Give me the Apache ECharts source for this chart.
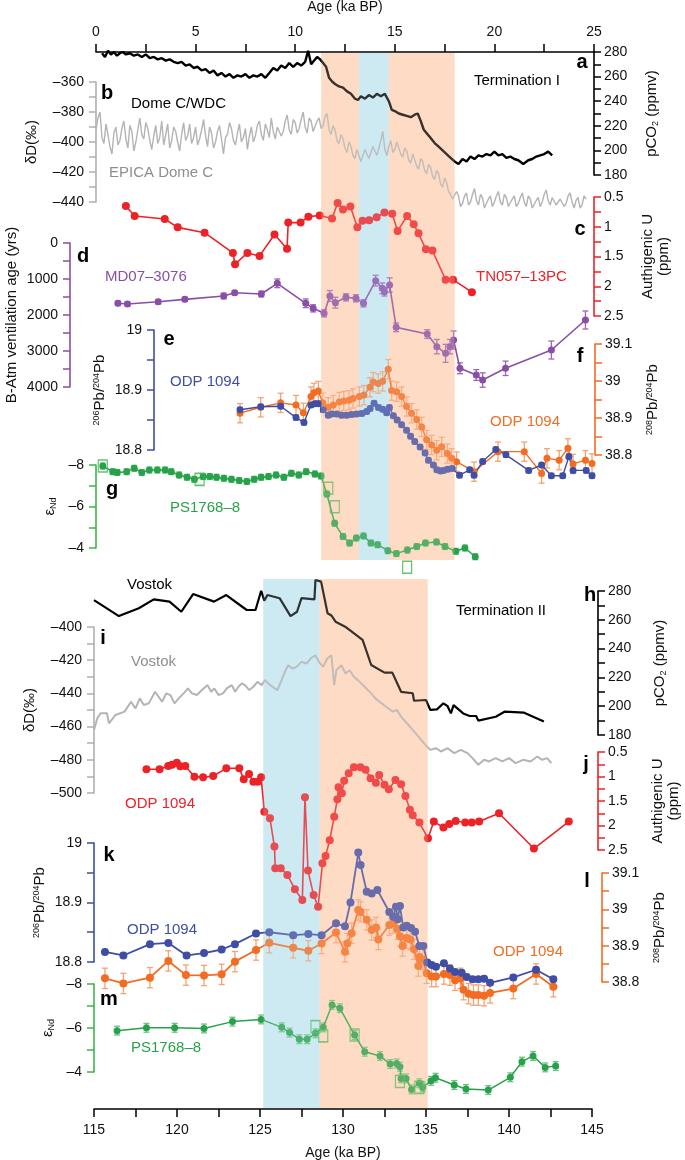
<!DOCTYPE html>
<html><head><meta charset="utf-8">
<script src="https://cdn.jsdelivr.net/npm/echarts@6/dist/echarts.min.js"></script>
<style>html,body{margin:0;padding:0;background:#fff}#c{width:685px;height:1160px}</style>
</head><body><div id="c"></div>
<script>
// ---------------- DATA ----------------
const xTop = [0, 25];
const xBot = [115, 145];
// shading [from, to, kind 0=orange 1=blue]
const shadeTop = [[11.3,13.2,0],[13.2,14.7,1],[14.7,18.0,0]];
const shadeBot = [[125.2,128.6,1],[128.6,135.1,0]];

// a: pCO2 Dome C/WDC
const co2A = [[0.3,279],[0.45,276],[0.6,281],[0.75,278],[0.9,280],[1.05,277],[1.2,279],[1.35,280],[1.5,278],[1.7,279],[1.9,277],[2.1,278],[2.3,276],[2.5,278],[2.7,275],[2.9,276],[3.1,274],[3.3,275],[3.5,273],[3.7,274],[3.9,272],[4.1,271],[4.3,272],[4.5,269],[4.7,270],[4.9,267],[5.1,268],[5.3,265],[5.5,266],[5.7,263],[5.9,265],[6.1,261],[6.3,263],[6.5,260],[6.7,262],[6.9,259],[7.1,261],[7.3,260],[7.5,262],[7.7,259],[7.9,261],[8.1,260],[8.3,262],[8.5,259],[8.7,263],[8.9,267],[9.1,265],[9.3,269],[9.5,267],[9.7,271],[9.9,268],[10.1,271],[10.3,269],[10.5,272],[10.65,281],[10.8,270],[10.95,273],[11.1,276],[11.25,274],[11.4,271],[11.55,268],[11.7,259],[11.85,256],[12.0,254],[12.2,252],[12.4,251],[12.6,248],[12.8,246],[13.0,242],[13.15,241],[13.3,244],[13.5,242],[13.7,245],[13.9,243],[14.1,246],[14.3,244],[14.5,246],[14.7,240],[14.85,233],[15.0,232],[15.2,230],[15.4,229],[15.6,228],[15.8,227],[16.0,229],[16.15,230],[16.3,224],[16.45,217],[16.6,214],[16.8,210],[17.0,206],[17.2,203],[17.4,200],[17.6,197],[17.8,194],[18.0,191],[18.2,189],[18.4,193],[18.6,191],[18.8,195],[19.0,193],[19.2,196],[19.4,195],[19.6,197],[19.8,196],[20.0,199],[20.2,196],[20.4,197],[20.6,194],[20.8,195],[21.0,193],[21.2,192],[21.45,189],[21.7,192],[21.9,193],[22.1,195],[22.3,196],[22.5,197],[22.7,199],[22.9,196]];
// b: dD EPICA Dome C
const dDA = [[0.0,-392],[0.1,-384],[0.2,-380],[0.3,-397],[0.4,-401],[0.5,-388],[0.6,-395],[0.7,-403],[0.8,-408],[0.9,-394],[1.0,-390],[1.1,-402],[1.2,-399],[1.3,-391],[1.4,-386],[1.5,-398],[1.6,-404],[1.7,-389],[1.8,-393],[1.9,-406],[2.0,-400],[2.1,-392],[2.2,-384],[2.3,-395],[2.4,-398],[2.5,-387],[2.6,-391],[2.7,-399],[2.8,-405],[2.9,-396],[3.0,-389],[3.1,-401],[3.2,-397],[3.3,-386],[3.4,-402],[3.5,-395],[3.6,-388],[3.7,-404],[3.8,-399],[3.9,-390],[4.0,-393],[4.1,-400],[4.2,-406],[4.3,-395],[4.4,-387],[4.5,-399],[4.6,-396],[4.7,-388],[4.8,-401],[4.9,-397],[5.0,-390],[5.1,-402],[5.2,-398],[5.3,-392],[5.4,-385],[5.5,-396],[5.6,-403],[5.7,-390],[5.8,-394],[5.9,-404],[6.0,-400],[6.1,-393],[6.2,-389],[6.3,-398],[6.4,-408],[6.5,-397],[6.6,-395],[6.7,-387],[6.8,-391],[6.9,-399],[7.0,-402],[7.1,-394],[7.2,-388],[7.3,-400],[7.4,-397],[7.5,-391],[7.6,-405],[7.7,-396],[7.8,-390],[7.9,-400],[8.0,-396],[8.1,-389],[8.2,-386],[8.3,-395],[8.4,-399],[8.5,-388],[8.6,-392],[8.7,-397],[8.8,-384],[8.9,-393],[9.0,-398],[9.1,-390],[9.2,-389],[9.3,-396],[9.4,-393],[9.5,-386],[9.6,-382],[9.7,-392],[9.8,-395],[9.9,-385],[10.0,-387],[10.1,-394],[10.2,-391],[10.3,-385],[10.4,-380],[10.5,-390],[10.6,-394],[10.7,-384],[10.8,-386],[10.9,-393],[11.0,-392],[11.1,-386],[11.2,-384],[11.3,-391],[11.4,-389],[11.5,-383],[11.6,-381],[11.7,-392],[11.8,-395],[11.9,-389],[12.0,-392],[12.1,-399],[12.2,-401],[12.3,-395],[12.4,-398],[12.5,-404],[12.6,-407],[12.7,-400],[12.8,-403],[12.9,-409],[13.0,-411],[13.1,-405],[13.2,-406],[13.3,-413],[13.4,-412],[13.5,-405],[13.6,-404],[13.7,-411],[13.8,-410],[13.9,-403],[14.0,-402],[14.1,-409],[14.2,-408],[14.3,-399],[14.4,-393],[14.5,-405],[14.6,-409],[14.7,-403],[14.8,-399],[14.9,-407],[15.0,-405],[15.1,-400],[15.2,-401],[15.3,-408],[15.4,-410],[15.5,-404],[15.6,-406],[15.7,-412],[15.8,-414],[15.9,-408],[16.0,-409],[16.1,-416],[16.2,-418],[16.3,-411],[16.4,-413],[16.5,-419],[16.6,-421],[16.7,-415],[16.8,-417],[16.9,-423],[17.0,-425],[17.1,-419],[17.2,-421],[17.3,-428],[17.4,-430],[17.5,-424],[17.6,-427],[17.7,-433],[17.8,-435],[17.9,-438],[18.0,-439],[18.1,-433],[18.2,-436],[18.3,-443],[18.4,-441],[18.5,-436],[18.6,-434],[18.7,-442],[18.8,-440],[18.9,-435],[19.0,-431],[19.1,-439],[19.2,-442],[19.3,-435],[19.4,-437],[19.5,-444],[19.6,-443],[19.7,-438],[19.8,-436],[19.9,-443],[20.0,-440],[20.1,-436],[20.2,-433],[20.3,-440],[20.4,-442],[20.5,-435],[20.6,-437],[20.7,-443],[20.8,-444],[20.9,-438],[21.0,-436],[21.1,-443],[21.2,-441],[21.3,-437],[21.4,-434],[21.5,-440],[21.6,-443],[21.7,-436],[21.8,-438],[21.9,-444],[22.0,-445],[22.1,-439],[22.2,-437],[22.3,-443],[22.4,-440],[22.5,-435],[22.6,-432],[22.7,-439],[22.8,-442],[22.9,-437],[23.0,-436],[23.1,-442],[23.2,-443],[23.3,-438],[23.4,-437],[23.5,-443],[23.6,-441],[23.7,-436],[23.8,-434],[23.9,-440],[24.0,-444],[24.1,-439],[24.2,-437],[24.3,-444],[24.4,-442],[24.5,-436],[24.6,-438]];
// c: authigenic U TN057-13PC
const uTop = [[1.5,0.65],[1.94,0.82],[3.45,0.87],[4.1,1.01],[5.45,1.10],[6.87,1.44],[6.98,1.63],[7.6,1.44],[8.21,1.49],[8.96,1.13],[9.59,1.37],[9.65,0.93],[10.27,0.93],[10.66,0.83],[11.23,0.81],[11.85,0.86],[12.13,0.60],[12.4,0.71],[12.77,0.66],[13.12,1.01],[13.38,0.90],[13.71,0.89],[14.09,0.84],[14.48,0.76],[14.87,0.78],[15.14,1.07],[15.62,0.82],[15.95,0.96],[16.19,1.11],[16.56,1.38],[16.89,1.40],[17.55,1.89],[17.92,1.89],[18.87,2.10]];
// d: B-Atm ventilation age MD07-3076 [age, yrs, err]
const ventD = [[1.10,1675,60],[1.58,1694,60],[3.12,1630,60],[4.46,1565,60],[6.41,1472,80],[6.96,1380,60],[8.3,1417,80],[9.1,1120,120],[10.53,1675,120],[10.9,1815,100],[11.45,1953,100],[11.74,1472,150],[12.02,1657,150],[12.55,1509,100],[13.05,1537,100],[13.43,1675,100],[14.04,1046,150],[14.37,1259,150],[14.48,1352,120],[14.74,1167,200],[15.07,2343,120],[16.63,2528,120],[17.11,2880,200],[17.55,3065,250],[17.77,2880,200],[17.95,2694,250],[18.27,3481,150],[19.09,3667,150],[19.41,3806,200],[20.56,3481,200],[22.86,2972,250],[24.57,2139,250]];
// e: 206Pb/204Pb ODP 1094 (T-I)
const pb206A = [[7.23,18.867],[8.27,18.872],[9.27,18.873],[10.04,18.854],[10.44,18.846],[10.79,18.875],[10.99,18.877],[11.16,18.877],[11.41,18.867],[11.66,18.858],[11.83,18.86],[12.08,18.86],[12.33,18.858],[12.58,18.858],[12.83,18.859],[13.08,18.86],[13.34,18.861],[13.59,18.864],[13.76,18.869],[13.96,18.878],[14.18,18.871],[14.39,18.868],[14.59,18.862],[14.73,18.871],[14.93,18.857],[15.12,18.85],[15.34,18.842],[15.59,18.833],[15.79,18.823],[16.0,18.814],[16.27,18.805],[16.52,18.795],[16.69,18.783],[16.94,18.775],[17.11,18.767],[17.3,18.765],[17.44,18.766],[17.65,18.768],[17.88,18.769],[18.25,18.758],[18.76,18.767],[18.98,18.758],[19.41,18.781],[20.07,18.801],[20.58,18.792],[21.72,18.766],[22.37,18.775],[22.86,18.757],[23.43,18.757],[23.74,18.789],[23.95,18.766],[24.61,18.766],[24.9,18.757]];
// f: 208Pb/204Pb ODP 1094 (T-I)
const pb208A = [[7.23,38.913],[8.27,38.929],[9.27,38.941],[10.04,38.935],[10.41,38.914],[10.79,38.958],[10.94,38.968],[11.16,38.973],[11.38,38.941],[11.66,38.929],[11.91,38.935],[12.21,38.943],[12.44,38.946],[12.7,38.948],[12.9,38.953],[13.22,38.958],[13.45,38.962],[13.75,38.983],[13.92,38.997],[14.17,38.993],[14.39,38.999],[14.67,39.032],[14.84,38.974],[15.09,38.971],[15.34,38.958],[15.59,38.931],[15.84,38.913],[16.1,38.896],[16.35,38.876],[16.6,38.841],[16.85,38.827],[17.1,38.813],[17.35,38.822],[17.64,38.804],[17.85,38.791],[18.1,38.782],[18.98,38.755],[20.18,38.809],[21.5,38.809],[22.37,38.75],[22.64,38.791],[23.25,38.786],[23.69,38.818],[23.95,38.776],[24.57,38.786],[24.9,38.777]];
// g: eNd PS1768-8 (T-I)
const endA = [[0.34,-7.95],[0.84,-7.68],[1.07,-7.64],[1.54,-7.68],[1.92,-7.84],[2.3,-7.64],[2.68,-7.76],[3.08,-7.76],[3.47,-7.76],[3.78,-7.68],[4.17,-7.52],[4.57,-7.41],[4.94,-7.31],[5.38,-7.44],[5.71,-7.44],[6.05,-7.41],[6.42,-7.36],[6.8,-7.31],[7.19,-7.25],[7.57,-7.2],[7.94,-7.31],[8.29,-7.41],[8.66,-7.44],[9.04,-7.52],[9.43,-7.41],[9.81,-7.6],[10.18,-7.52],[10.55,-7.68],[10.99,-7.57],[11.3,-7.47],[11.59,-6.6],[11.98,-5.19],[12.4,-4.55],[12.73,-4.24],[13.07,-4.48],[13.43,-4.58],[13.8,-4.24],[14.14,-4.16],[14.65,-3.87],[15.08,-3.73],[15.63,-3.9],[16.1,-4.07],[16.54,-4.24],[17.09,-4.29],[17.52,-4.07],[18.06,-3.84],[18.52,-4.0],[19.04,-3.58]];
const endAOpen = [[0.34,-7.95],[5.2,-7.31],[11.66,-6.88],[11.99,-5.99],[15.62,-3.07]];

// h: pCO2 Vostok
const co2B = [[115.0,273.7],[116.5,262.6],[117.7,268],[118.6,274.2],[119.55,272.6],[120.26,265.6],[120.97,277.9],[122.23,272.6],[122.97,277.2],[124.2,266.8],[124.73,266.8],[125.07,280.2],[125.26,273.3],[125.45,277.2],[126.18,275],[126.84,262.6],[127.23,265.6],[127.5,275],[128.28,274.2],[128.34,287.6],[128.68,286.5],[129.07,264.5],[129.3,263],[129.55,258.7],[130.13,255.2],[131.18,246],[131.7,228.6],[132.5,223.3],[132.97,223.3],[133.5,210],[134.2,209],[134.28,203.8],[135.0,204.3],[135.26,197.4],[135.66,197.8],[136.05,202],[136.3,200],[136.5,195],[136.66,200.8],[137.24,195],[137.63,193.2],[138.02,193.2],[138.15,190],[139.2,192.7],[139.73,196.2],[140.91,195.5],[142.1,189.3]];
// i: dD Vostok
const dDB = [[115.0,-462],[115.2,-455],[115.4,-452],[115.78,-452],[115.9,-458],[116.3,-453],[116.84,-451],[117.23,-445],[117.5,-449],[117.76,-443],[118.0,-447],[118.3,-446],[118.68,-439],[119.1,-445],[119.35,-440],[119.6,-441],[119.85,-446],[120.1,-443],[120.4,-440],[120.66,-437],[120.9,-440],[121.2,-441],[121.5,-438],[121.84,-435],[122.05,-439],[122.25,-437],[122.5,-441],[122.77,-440],[123.0,-437],[123.3,-435],[123.5,-439],[123.7,-436],[123.9,-434],[124.1,-435],[124.35,-438],[124.6,-436],[124.85,-433],[125.1,-435],[125.3,-432],[125.5,-434],[125.75,-436],[126.05,-438],[126.3,-432],[126.5,-427],[126.7,-423],[126.95,-425],[127.2,-424],[127.5,-421],[127.8,-422],[128.05,-419],[128.34,-417],[128.55,-421],[128.8,-424],[129.05,-419],[129.3,-417],[129.47,-435],[129.6,-426],[129.9,-423],[130.15,-428],[130.4,-426],[130.65,-430],[130.9,-432],[131.3,-436],[131.7,-440],[131.95,-443],[132.2,-445],[132.6,-448],[133.0,-451],[133.25,-450],[133.5,-454],[133.85,-458],[134.2,-462],[134.55,-466],[134.87,-470],[135.26,-474],[135.6,-473],[135.9,-475],[136.3,-473],[136.7,-476],[137.1,-474],[137.5,-476],[137.8,-479],[138.15,-483],[138.5,-480],[138.8,-481],[139.2,-479],[139.6,-481],[140.0,-479],[140.4,-482],[140.85,-480],[141.3,-481],[141.7,-478],[142.0,-480],[142.3,-479],[142.55,-482]];
// j: authigenic U ODP 1094
const uBot = [[118.16,0.853],[118.95,0.853],[119.47,0.786],[119.7,0.76],[119.99,0.718],[120.2,0.79],[120.5,0.786],[121.05,1.003],[121.57,1.017],[122.18,0.99],[122.97,0.833],[123.75,0.833],[124.02,1.058],[124.34,0.95],[124.6,1.106],[124.87,1.106],[125.07,1.017],[125.26,1.718],[125.6,1.853],[125.87,2.43],[125.92,2.87],[126.25,2.87],[126.65,3.01],[127.1,3.30],[127.55,3.52],[127.71,1.424],[127.89,2.92],[128.23,3.42],[128.5,3.66],[128.76,2.77],[128.95,2.62],[129.2,2.30],[129.47,1.82],[129.66,1.465],[129.73,1.22],[129.93,1.34],[130.07,1.086],[130.34,0.935],[130.66,0.81],[131.05,0.81],[131.36,0.86],[131.66,1.037],[131.98,1.13],[132.18,0.97],[132.5,1.17],[132.76,1.26],[133.16,1.07],[133.5,1.16],[133.76,1.40],[134.03,1.68],[134.2,1.79],[134.6,1.94],[135.12,2.26],[135.47,1.92],[136.05,2.04],[136.4,1.97],[136.79,1.908],[137.36,1.94],[137.76,1.94],[138.2,1.92],[139.4,1.75],[141.5,2.47],[143.6,1.92]];
// k: 206Pb/204Pb ODP 1094 (T-II)
const pb206B = [[115.66,18.817],[116.77,18.811],[118.37,18.830],[119.48,18.832],[120.58,18.811],[121.63,18.815],[122.69,18.821],[123.49,18.830],[124.76,18.848],[125.56,18.850],[127.0,18.845],[127.91,18.847],[128.71,18.845],[129.58,18.865],[130.12,18.860],[130.45,18.9],[130.92,18.984],[131.06,18.963],[131.43,18.918],[131.73,18.915],[132.07,18.921],[132.79,18.884],[133.03,18.876],[133.19,18.893],[133.3,18.872],[133.43,18.894],[133.63,18.858],[133.84,18.861],[134.1,18.857],[134.34,18.851],[134.6,18.827],[134.84,18.827],[135.08,18.799],[135.34,18.795],[135.6,18.792],[136.08,18.798],[136.44,18.789],[136.75,18.783],[137.15,18.782],[137.45,18.775],[137.8,18.771],[138.15,18.771],[138.5,18.772],[138.86,18.765],[140.26,18.774],[141.63,18.787],[142.67,18.771]];
// l: 208Pb/204Pb ODP 1094 (T-II)
const pb208B = [[115.66,38.810],[116.77,38.796],[118.37,38.812],[119.48,38.858],[120.54,38.819],[121.63,38.818],[122.69,38.821],[123.49,38.856],[124.76,38.888],[125.56,38.908],[127.0,38.894],[127.91,38.886],[128.71,38.906],[129.58,38.936],[130.12,38.883],[130.26,38.906],[130.52,38.934],[130.92,38.998],[131.06,38.993],[131.43,38.971],[131.73,38.943],[131.99,38.950],[132.13,38.917],[132.79,38.957],[133.03,38.962],[133.27,38.946],[133.43,38.926],[133.59,38.899],[133.84,38.921],[134.06,38.917],[134.28,38.890],[134.54,38.844],[134.6,38.869],[134.8,38.862],[135.04,38.824],[135.34,38.815],[135.6,38.815],[136.08,38.822],[136.44,38.819],[136.75,38.805],[137.07,38.81],[137.26,38.779],[137.56,38.768],[137.86,38.764],[138.15,38.764],[138.5,38.762],[138.86,38.770],[140.26,38.782],[141.63,38.822],[142.67,38.787]];
// m: eNd PS1768-8 (T-II)
const endB = [[116.39,-5.88],[118.16,-6.01],[119.86,-6.01],[121.63,-5.98],[123.34,-6.29],[125.07,-6.39],[126.31,-6.03],[126.78,-5.79],[127.37,-5.49],[127.84,-5.49],[128.34,-5.76],[128.81,-6.03],[129.34,-7.05],[129.81,-6.9],[130.7,-5.68],[131.31,-4.92],[132.23,-4.73],[132.84,-4.36],[133.23,-4.39],[133.43,-4.24],[133.5,-3.71],[133.8,-3.71],[134.13,-3.21],[134.6,-3.49],[134.8,-3.3],[135.3,-3.6],[135.57,-3.74],[136.7,-3.41],[137.41,-3.23],[138.75,-3.18],[140.08,-3.76],[140.78,-4.47],[141.45,-4.73],[142.18,-4.21],[142.81,-4.27]];
const endBOpen = [[128.34,-6.06],[128.81,-5.64],[130.7,-5.68],[133.43,-3.57],[134.6,-3.3]];

// typical error half-widths
const errPb206 = 0.004, errPb208A = 0.026, errPb208B = 0.028, errNdA = 0.14, errNdB = 0.2;

// ---------------- STYLE ----------------
const FF = '"Liberation Sans", Arial, Helvetica, sans-serif';
const C = {black:'#000', grey:'#b4b4b4', greyAx:'#b0b0b0', red:'#ec2227', purple:'#8b4ea6', blue:'#3f4ea4', orange:'#f26c22', green:'#27a24a', greenAx:'#3db54a'};
const ERR = {purple:'#9a67b5', blue:'#7a86c8', orange:'#f6a271', green:'#6dc184'};
const SHADE = {orange:'#fddcc6', blue:'#cde9f1'};
const RICH = {
  sup:{fontSize:9, fontFamily:FF, color:'#111', verticalAlign:'top', lineHeight:16},
  sub:{fontSize:9, fontFamily:FF, color:'#111', verticalAlign:'bottom', lineHeight:16},
  n:{fontSize:15, fontFamily:FF, color:'#111', lineHeight:16}
};
const fmt = v => String(Math.round(v*1000)/1000).replace('-', '\u2013');

// panels: grid geometry + y axis
const TL = 96, TR = 91, BL = 94, BR = 93;
const P = [
  {sec:'T', top:52, h:509, y:{min:0,max:1,show:false}},                                                        //0 shade top
  {sec:'T', top:52, h:123, y:{min:180,max:280,interval:20,pos:'right',off:0,color:C.black,name:'{n|pCO}{sub|2}{n| (ppmv)}',gap:50}}, //1 a
  {sec:'T', top:82, h:120, y:{min:-440,max:-360,interval:20,pos:'left',off:0,color:C.greyAx,name:'{n|δD(‰)}',gap:56}},            //2 b
  {sec:'T', top:197, h:119, y:{min:0.5,max:2.5,interval:0.5,inverse:true,pos:'right',off:0,color:C.red,name:'{n|Authigenic U}\n{n|(ppm)}',gap:46}}, //3 c
  {sec:'T', top:243, h:144, y:{min:0,max:4000,interval:1000,inverse:true,pos:'left',off:26,color:C.purple,name:'{n|B-Atm ventilation age (yrs)}',gap:50}}, //4 d
  {sec:'T', top:330, h:120, y:{min:18.8,max:19,interval:0.1,pos:'left',off:-58,color:C.blue,name:'{sup|206}{n|Pb/}{sup|204}{n|Pb}',gap:46}}, //5 e
  {sec:'T', top:344, h:111, y:{min:38.8,max:39.1,interval:0.1,pos:'right',off:1,color:C.orange,name:'{sup|208}{n|Pb/}{sup|204}{n|Pb}',gap:50}}, //6 f
  {sec:'T', top:465, h:83, y:{min:-8,max:-4,interval:2,inverse:true,pos:'left',off:0,color:C.greenAx,name:'{n|ε}{sub|Nd}',gap:38}},   //7 g
  {sec:'B', top:578, h:531, y:{min:0,max:1,show:false}},                                                       //8 shade bottom
  {sec:'B', top:591, h:144, y:{min:180,max:280,interval:20,pos:'right',off:6,color:C.black,name:'{n|pCO}{sub|2}{n| (ppmv)}',gap:54}}, //9 h
  {sec:'B', top:627, h:166, y:{min:-500,max:-400,interval:20,pos:'left',off:0,color:C.greyAx,name:'{n|δD(‰)}',gap:56}},           //10 i
  {sec:'B', top:752, h:98, y:{min:0.5,max:2.5,interval:0.5,inverse:true,pos:'right',off:6,color:C.red,name:'{n|Authigenic U}\n{n|(ppm)}',gap:52}}, //11 j
  {sec:'B', top:843, h:119, y:{min:18.8,max:19,interval:0.1,pos:'left',off:0,color:C.blue,name:'{sup|206}{n|Pb/}{sup|204}{n|Pb}',gap:46}}, //12 k
  {sec:'B', top:873, h:109, y:{min:38.8,max:39.1,interval:0.1,pos:'right',off:10,color:C.orange,name:'{sup|208}{n|Pb/}{sup|204}{n|Pb}',gap:50}}, //13 l
  {sec:'B', top:984, h:88, y:{min:-8,max:-4,interval:2,inverse:true,pos:'left',off:0,color:C.greenAx,name:'{n|ε}{sub|Nd}',gap:38}}     //14 m
];

const grids = P.map(p => ({left: p.sec==='T'?TL:BL, right: p.sec==='T'?TR:BR, top:p.top, height:p.h, containLabel:false, outerBoundsMode:'none'}));

function xAx(i, p) {
  const r = p.sec==='T' ? xTop : xBot;
  const base = {gridIndex:i, type:'value', min:r[0], max:r[1], interval:5, show:false, splitLine:{show:false}};
  if (i === 0 || i === 8) {
    Object.assign(base, {
      show:true, position: i===0 ? 'top':'bottom', z:30,
      axisLine:{show:true, onZero:false, lineStyle:{color:'#000', width:1.6}},
      axisTick:{show:true, length:8, lineStyle:{color:'#000', width:1.5}},
      minorTick:{show:true, splitNumber:2, length:8, lineStyle:{color:'#000', width:1.5}},
      minorSplitLine:{show:false},
      axisLabel:{color:'#111', fontSize:14, fontFamily:FF, margin: i===0 ? 13 : 14},
      name:'Age (ka BP)', nameLocation:'middle', nameGap: i===0 ? 38 : 37,
      nameTextStyle:{color:'#111', fontSize:14, fontFamily:FF}
    });
  }
  return base;
}
function yAx(i, p) {
  const o = p.y;
  if (o.show === false) return {gridIndex:i, type:'value', min:o.min, max:o.max, show:false, splitLine:{show:false}};
  const c = o.color;
  return {
    gridIndex:i, type:'value', min:o.min, max:o.max, interval:o.interval, inverse:!!o.inverse,
    position:o.pos, offset:o.off, show:true,
    axisLine:{show:true, onZero:false, lineStyle:{color:c, width:1.6}},
    axisTick:{show:true, length:7, lineStyle:{color:c, width:1.5}},
    minorTick:{show:true, splitNumber:2, length:7, lineStyle:{color:c, width:1.5}},
    splitLine:{show:false}, minorSplitLine:{show:false},
    axisLabel:{color:'#111', fontSize:14, fontFamily:FF, margin: o.pos==='left' ? 12 : 10, formatter:fmt, showMinLabel:true, showMaxLabel:true, hideOverlap:false},
    name:o.name, nameLocation:'middle', nameGap:o.gap, nameRotate:90, nameMoveOverlap:false,
    nameTextStyle:{color:'#111', fontSize:15, fontFamily:FF, rich:RICH, lineHeight:17, align:'center'}
  };
}

// ---------------- SERIES HELPERS ----------------
function shade(gi, data, z, opacity) {
  return {type:'custom', xAxisIndex:gi, yAxisIndex:gi, data, z, silent:true, clip:false,
    renderItem:(params, api) => {
      const a = api.coord([api.value(0), 0.998]), b = api.coord([api.value(1), 0.002]);
      return {type:'rect', shape:{x:a[0], y:a[1], width:b[0]-a[0], height:b[1]-a[1]},
        style:{fill: api.value(2)===1 ? SHADE.blue : SHADE.orange, opacity}};
    }};
}
function errBars(gi, data, color, cap) {
  return {type:'custom', xAxisIndex:gi, yAxisIndex:gi, data, z:3, silent:true, clip:false,
    renderItem:(params, api) => {
      const x = api.value(0), y = api.value(1), e = api.value(2);
      const a = api.coord([x, y-e]), b = api.coord([x, y+e]);
      const st = {stroke:color, lineWidth:1.3};
      return {type:'group', children:[
        {type:'line', shape:{x1:a[0], y1:a[1], x2:b[0], y2:b[1]}, style:st},
        {type:'line', shape:{x1:a[0]-cap, y1:a[1], x2:a[0]+cap, y2:a[1]}, style:st},
        {type:'line', shape:{x1:b[0]-cap, y1:b[1], x2:b[0]+cap, y2:b[1]}, style:st}
      ]};
    }};
}
function line(gi, data, color, width, sym, symSize) {
  return {type:'line', xAxisIndex:gi, yAxisIndex:gi, data, clip:false, z:4, silent:true,
    symbol: sym || 'none', symbolSize: symSize || 6, showSymbol: !!sym,
    lineStyle:{color, width}, itemStyle:{color, borderWidth:0}, emphasis:{disabled:true}};
}
function openSq(gi, data, color) {
  return {type:'scatter', xAxisIndex:gi, yAxisIndex:gi, data, clip:false, z:5, silent:true,
    symbol:'rect', symbolSize:[9,12], itemStyle:{color:'rgba(255,255,255,0)', borderColor:color, borderWidth:1.4}};
}
const withErr = (d, e) => d.map(p => [p[0], p[1], e]);

const series = [
  shade(0, shadeTop, 1, 1),
  shade(8, shadeBot, 1, 1),
  line(1, co2A, C.black, 2.4),
  line(2, dDA, C.grey, 1.4),
  line(3, uTop, C.red, 1.6, 'circle', 8),
  errBars(4, ventD, ERR.purple, 3),
  line(4, ventD.map(p=>[p[0],p[1]]), C.purple, 1.6, 'circle', 7),
  errBars(6, withErr(pb208A, errPb208A), ERR.orange, 3),
  line(6, pb208A, C.orange, 1.4, 'circle', 7),
  errBars(5, withErr(pb206A, errPb206), ERR.blue, 3),
  line(5, pb206A, C.blue, 1.4, 'circle', 7),
  errBars(7, withErr(endA, errNdA), ERR.green, 3),
  line(7, endA, C.green, 1.5, 'circle', 7),
  openSq(7, endAOpen, C.greenAx),

  line(9, co2B, C.black, 2.2),
  line(10, dDB, C.grey, 2),
  line(11, uBot, C.red, 1.6, 'circle', 8),
  errBars(13, withErr(pb208B, errPb208B), ERR.orange, 3),
  line(13, pb208B, C.orange, 1.8, 'circle', 8),
  errBars(12, withErr(pb206B, errPb206), ERR.blue, 3),
  line(12, pb206B, C.blue, 1.8, 'circle', 8),
  errBars(14, withErr(endB, errNdB), ERR.green, 3),
  line(14, endB, C.green, 1.5, 'circle', 7),
  openSq(14, endBOpen, C.greenAx),
  // light translucent tint on top so marks inside the bands take the band colour
  shade(0, shadeTop, 20, 0.22),
  shade(8, shadeBot, 20, 0.22)
];

// ---------------- TEXT ----------------
function txt(x, y, s, color, size, bold, align) {
  return {type:'text', x, y, z:100, silent:true,
    style:{text:s, fill:color, font:(bold?'bold ':'') + size + 'px ' + FF, align:align||'left', verticalAlign:'middle'}};
}
const graphics = [
  txt(131,104,'Dome C/WDC','#000',15),
  txt(109,173,'EPICA Dome C','#8e8e8e',15),
  txt(474,81,'Termination I','#000',15),
  txt(476,277,'TN057\u201313PC',C.red,15),
  txt(105,277,'MD07\u20133076',C.purple,15),
  txt(170,382,'ODP 1094',C.blue,15),
  txt(490,422,'ODP 1094',C.orange,15),
  txt(170,508,'PS1768\u20138',C.green,15),
  txt(127,585,'Vostok','#000',15),
  txt(456,611,'Termination II','#000',15),
  txt(131,662,'Vostok','#8e8e8e',15),
  txt(125,804,'ODP 1094',C.red,15),
  txt(127,930,'ODP 1094',C.blue,15),
  txt(493,952,'ODP 1094',C.orange,15),
  txt(131,1048,'PS1768\u20138',C.green,15),
  txt(582,62,'a','#000',20,true,'center'),
  txt(107,93,'b','#000',20,true,'center'),
  txt(580,229,'c','#000',20,true,'center'),
  txt(83,256,'d','#000',20,true,'center'),
  txt(169,339,'e','#000',20,true,'center'),
  txt(580,356,'f','#000',20,true,'center'),
  txt(112,489,'g','#000',20,true,'center'),
  txt(590,595,'h','#000',20,true,'center'),
  txt(103,638,'i','#000',20,true,'center'),
  txt(586,764,'j','#000',20,true,'center'),
  txt(109,855,'k','#000',20,true,'center'),
  txt(587,881,'l','#000',20,true,'center'),
  txt(109,999,'m','#000',20,true,'center')
];

const chart = echarts.init(document.getElementById('c'), null, {renderer:'canvas', width:685, height:1160});
chart.setOption({
  backgroundColor:'#ffffff',
  animation:false,
  textStyle:{fontFamily:FF},
  grid: grids,
  xAxis: P.map((p,i) => xAx(i,p)),
  yAxis: P.map((p,i) => yAx(i,p)),
  series,
  graphic: graphics
});
</script></body></html>
